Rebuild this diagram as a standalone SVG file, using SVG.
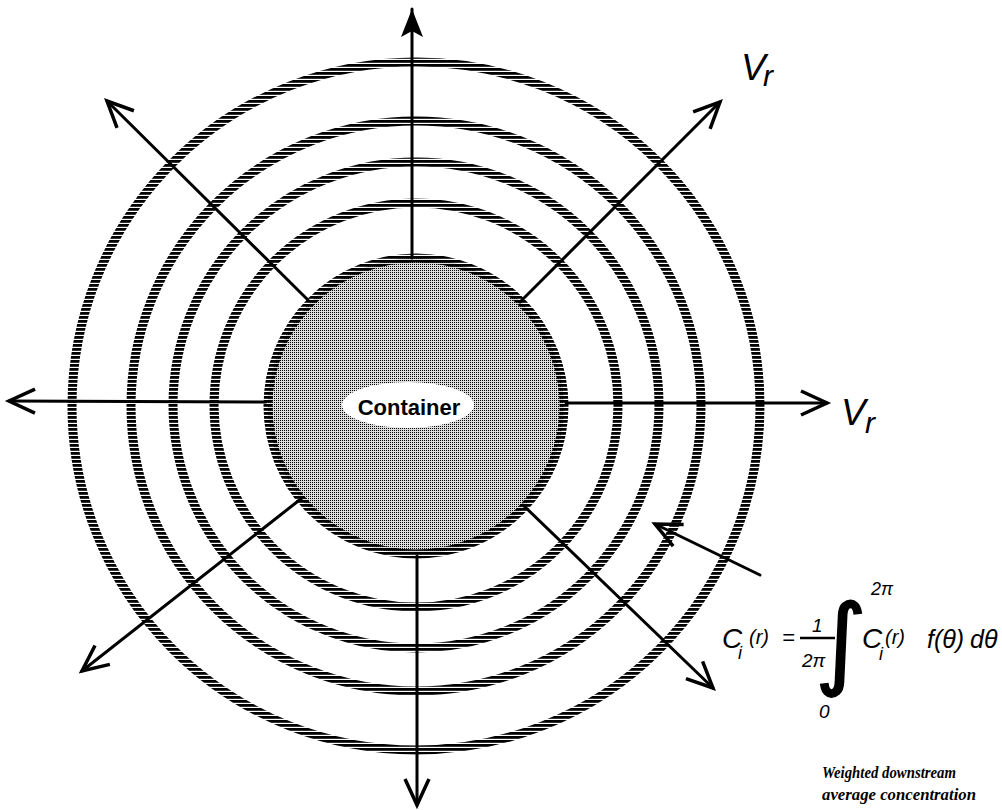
<svg xmlns="http://www.w3.org/2000/svg" width="1002" height="810" viewBox="0 0 1002 810">
<style>
.ring{fill:none;stroke:url(#hatch);stroke-width:9}
.arr{fill:none;stroke:#000;stroke-width:3;stroke-linecap:round}
.lbl{font-family:"Liberation Sans",Arial,sans-serif;font-style:italic;fill:#000}
.cap{font-family:"Liberation Serif","Times New Roman",serif;font-style:italic;font-weight:bold;font-size:16px;fill:#000}
</style>
<defs>
<pattern id="hatch" patternUnits="userSpaceOnUse" width="8" height="4">
<rect x="0" y="0" width="8" height="2.8" fill="#000"/>
</pattern>
<pattern id="stip" patternUnits="userSpaceOnUse" width="2" height="2">
<rect width="2" height="2" fill="#dcdcdc"/>
<rect x="0" y="0" width="1" height="1" fill="#000"/>
</pattern>
<marker id="open" markerUnits="userSpaceOnUse" markerWidth="40" markerHeight="40" refX="30" refY="20" orient="auto">
<path d="M4 8 L30 20 L4 32" fill="none" stroke="#000" stroke-width="3.5" stroke-linejoin="miter"/>
</marker>
<marker id="solid" markerUnits="userSpaceOnUse" markerWidth="40" markerHeight="40" refX="30" refY="20" orient="auto">
<path d="M30 20 L2 9 L8 20 L2 31 Z" fill="#000"/>
</marker>
</defs>
<rect width="1002" height="810" fill="#fff"/>
<g id="rings">
<circle class="ring" cx="416" cy="406" r="344"/>
<circle class="ring" cx="416" cy="406" r="285"/>
<circle class="ring" cx="416" cy="405" r="243"/>
<circle class="ring" cx="416" cy="405" r="202"/>
</g>
<g id="container">
<circle cx="416" cy="406" r="148" fill="url(#stip)" stroke="url(#hatch)" stroke-width="9"/>
<ellipse cx="408" cy="405" rx="66" ry="23" fill="#fff"/>
<text x="409" y="415" text-anchor="middle" font-family="Liberation Sans,Arial,sans-serif" font-weight="bold" font-size="22">Container</text>
</g>
<g id="connectors">
<line class="arr" x1="412" y1="258" x2="412" y2="9" marker-end="url(#solid)"/>
<line class="arr" x1="417" y1="556" x2="417" y2="805" marker-end="url(#open)"/>
<line class="arr" x1="266" y1="402" x2="9" y2="401" marker-end="url(#open)"/>
<line class="arr" x1="566" y1="403" x2="827" y2="403" marker-end="url(#open)"/>
<line class="arr" x1="308" y1="300" x2="107" y2="101" marker-end="url(#open)"/>
<line class="arr" x1="520" y1="302" x2="720" y2="102" marker-end="url(#open)"/>
<line class="arr" x1="302" y1="498" x2="82" y2="671" marker-end="url(#open)"/>
<line class="arr" x1="523" y1="505" x2="713" y2="688" marker-end="url(#open)"/>
<line class="arr" x1="760" y1="575" x2="655" y2="524" marker-end="url(#open)"/>
</g>
<g id="label-vr-top">
<text class="lbl" x="741" y="80" font-size="37">V</text>
<text class="lbl" x="763" y="86" font-size="30">r</text>
</g>
<g id="label-vr-right">
<text class="lbl" x="841" y="425" font-size="37">V</text>
<text class="lbl" x="865" y="433" font-size="30">r</text>
</g>
<g id="formula">
<text class="lbl" x="722" y="648" font-size="28">C</text>
<text class="lbl" x="738" y="659" font-size="18">i</text>
<text class="lbl" x="749" y="644" font-size="20">(r)</text>
<text class="lbl" x="782" y="645" font-size="22">=</text>
<text class="lbl" x="812" y="632" font-size="19">1</text>
<line x1="800" y1="638" x2="835" y2="638" stroke="#000" stroke-width="2.5"/>
<text class="lbl" x="802" y="667" font-size="19">2π</text>
<text x="841" y="676" text-anchor="middle" font-family="DejaVu Sans,sans-serif" font-size="100" stroke="#000" stroke-width="1.5">∫</text>
<text class="lbl" x="871" y="595" font-size="18">2π</text>
<text class="lbl" x="819" y="718" font-size="19">0</text>
<text class="lbl" x="862" y="648" font-size="28">C</text>
<text class="lbl" x="879" y="660" font-size="18">i</text>
<text class="lbl" x="885" y="644" font-size="20">(r)</text>
<text class="lbl" x="927" y="648" font-size="25">f(θ)</text>
<text class="lbl" x="970" y="648" font-size="25">dθ</text>
</g>
<g id="caption">
<text class="cap" x="822" y="778" textLength="134" lengthAdjust="spacingAndGlyphs">Weighted downstream</text>
<text class="cap" x="822" y="800" textLength="154" lengthAdjust="spacingAndGlyphs">average concentration</text>
</g>
</svg>
